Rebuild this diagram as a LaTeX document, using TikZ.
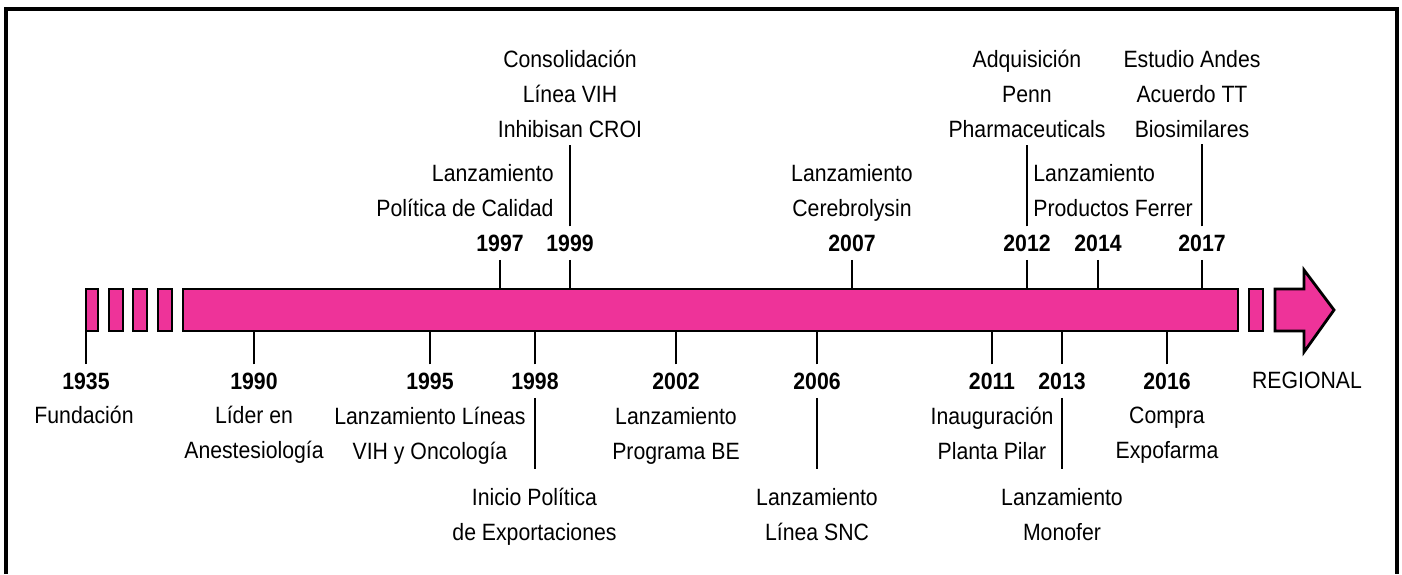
\documentclass[tikz,border=0pt]{standalone}
\usepackage{fontspec}
\setmainfont{Liberation Sans}[FakeStretch=0.9]
\definecolor{barpink}{RGB}{238,51,153}
\newcommand{\tlfont}{\fontsize{11.8}{17.5}\selectfont}

\tikzset{
  bar/.style={draw, fill=barpink, line width=1.4pt},
  tick/.style={line width=1.1pt},
  lead/.style={tick, shorten >=#1},
  year/.style={font=\tlfont\bfseries, inner sep=4pt},
  event/.style={font=\tlfont, align=center, inner sep=0pt},
}

\begin{document}
\begin{tikzpicture}[x=0.5pt, y=-0.5pt]
\useasboundingbox (0,0) rectangle (1402,574);
\draw[line width=2pt] (6,574) |- (1397,9) -- (1397,574);

% the bar, broken at both ends
\foreach \a/\b in {86/98,109/123,133/147,158/172,1249/1263}
  \draw[bar] (\a,289) rectangle (\b,331);
\node[bar, minimum width=527.5pt, minimum height=21pt, inner sep=0pt] (bar) at (710.5,310) {};
\draw[bar] (1275,289) -- (1304,289) -- (1304,270) -- (1334,310)
  -- (1304,352) -- (1304,331) -- (1275,331) -- cycle;
\node[event] (regional) at (1307,380) {REGIONAL};

% years above the bar
\foreach \yr/\x in {1997/500,1999/570,2007/852,2012/1027,2014/1098,2017/1202} {
  \node[year] (y\yr) at (\x,243) {\yr};
  \draw[tick] (y\yr.south) -- (y\yr.south |- bar.north);
}
% years below the bar
\foreach \yr/\x in {1935/86,1990/254,1995/430,1998/535,2002/676,2006/817,2011/992,2013/1062,2016/1167} {
  \node[year] (y\yr) at (\x,381) {\yr};
  \draw[tick] (y\yr.north) -- (y\yr.north |- bar.south);
}

% events above
\node[event, align=right, anchor=east] (d1997) at (554,190.5) {Lanzamiento\\Política de Calidad};
\node[event] (d1999) at (570,94) {Consolidación\\Línea VIH\\Inhibisan CROI};
\node[event] (d2007) at (852,192.5) {Lanzamiento\\Cerebrolysin};
\node[event] (d2012) at (1027,94) {Adquisición\\Penn\\Pharmaceuticals};
\node[event, align=left, anchor=west] (d2014) at (1033,190.5) {Lanzamiento\\Productos Ferrer};
\node[event] (d2017) at (1192,94) {Estudio Andes\\Acuerdo TT\\Biosimilares};

% events below
\node[event] (d1935) at (84,415) {Fundación};
\node[event] (d1990) at (254,435) {Líder en\\Anestesiología};
\node[event] (d1995) at (430,436) {Lanzamiento Líneas\\VIH y Oncología};
\node[event] (d1998) at (534.5,517) {Inicio Política\\de Exportaciones};
\node[event] (d2002) at (676,436) {Lanzamiento\\Programa BE};
\node[event] (d2006) at (817,514.5) {Lanzamiento\\Línea SNC};
\node[event] (d2011) at (992,433.5) {Inauguración\\Planta Pilar};
\node[event] (d2013) at (1062,514.5) {Lanzamiento\\Monofer};
\node[event] (d2016) at (1167,435) {Compra\\Expofarma};

% long leaders
\foreach \yr in {1999,2012,2017}
  \draw[lead=3.2pt] (y\yr.north) -- (y\yr.north |- d\yr.south);
\foreach \yr in {1998,2006,2013}
  \draw[lead=9.5pt] (y\yr.south) -- (y\yr.south |- d\yr.north);
\end{tikzpicture}
\end{document}
